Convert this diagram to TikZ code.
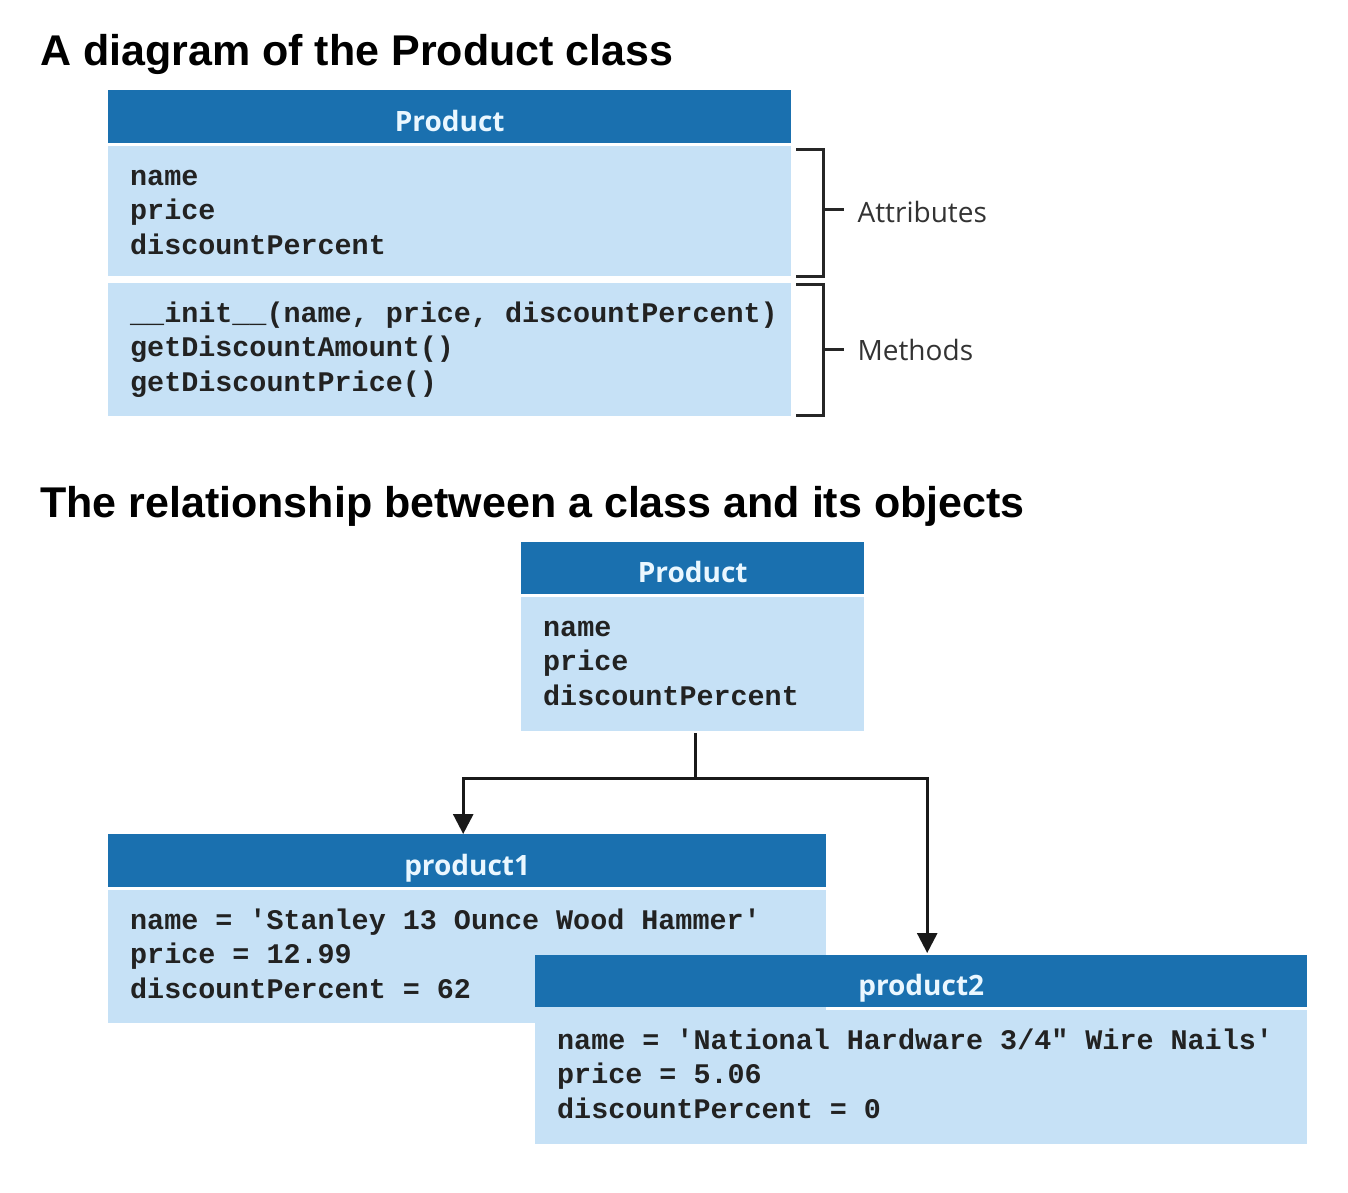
\documentclass[tikz,border=0pt]{standalone}
\usepackage{fontspec}
\setmainfont{Liberation Sans}
\newfontfamily\hdrfont{Open Sans}
\newfontfamily\codefont{Liberation Mono}[Ligatures=TeXOff]
\usetikzlibrary{arrows.meta,calc}
\definecolor{hdrblue}{HTML}{1A70AF}
\definecolor{bodyblue}{HTML}{C6E1F6}
\definecolor{hdrtext}{HTML}{EAF7FF}
\definecolor{codetext}{HTML}{222222}
\begin{document}
\begin{tikzpicture}[x=1pt,y=-1pt,
 hdr/.style={fill=hdrblue, draw=none, anchor=north west, inner sep=0, text=hdrtext, font=\hdrfont\bfseries\fontsize{28}{30}\selectfont, text depth=2pt, text height=31pt},
 bodybox/.style={fill=bodyblue, draw=none, anchor=north west, inner sep=0},
 code/.style={anchor=base west, inner sep=0, text=codetext, font=\codefont\bfseries\fontsize{28.4}{34}\selectfont},
 title/.style={anchor=base west, inner sep=0, font=\bfseries\fontsize{43}{48}\selectfont},
 note/.style={anchor=west, inner sep=0, text=black!80, font=\hdrfont\fontsize{28}{30}\selectfont},
 bracket/.style={line width=3pt, black!85},
 conn/.style={line width=2.8pt, black!90, -{Triangle[width=20pt,length=20pt]}}
]
\useasboundingbox[fill=white] (0,0) rectangle (1348,1192);

% Title 1
\node[title] (t1) at (40,65) {A diagram of the Product class};

% Class box 1
\node[hdr, minimum width=683pt, minimum height=53pt] (h1) at (108,90) {Product};
\node[bodybox, minimum width=683pt, minimum height=130pt] (attr1) at (108,146) {};
\node[bodybox, minimum width=683pt, minimum height=133pt] (meth1) at (108,283) {};
\node[code] (a1) at (130,185) {name};
\node[code] (a2) at (130,219.5) {price};
\node[code] (a3) at (130,254) {discountPercent};
\node[code] (m1) at (130,322) {\_\_init\_\_(name, price, discountPercent)};
\node[code] (m2) at (130,356.5) {getDiscountAmount()};
\node[code] (m3) at (130,391) {getDiscountPrice()};

% Brackets
\draw[bracket] ($(attr1.north east)+(5,3)$) -| ($(attr1.south east)+(32,0)$) -- ($(attr1.south east)+(5,0)$);
\draw[bracket] ($(attr1.east)+(32,-2)$) -- ($(attr1.east)+(53,-2)$);
\node[note] (attrl) at ($(attr1.east)+(66,1)$) {Attributes};
\draw[bracket] ($(meth1.north east)+(5,1)$) -| ($(meth1.south east)+(32,-1)$) -- ($(meth1.south east)+(5,-1)$);
\draw[bracket] ($(meth1.east)+(32,0)$) -- ($(meth1.east)+(53,0)$);
\node[note] (methl) at ($(meth1.east)+(66,0)$) {Methods};

% Title 2
\node[title] (t2) at (40,517) {The relationship between a class and its objects};

% Class box 2
\node[hdr, minimum width=343pt, minimum height=52pt] (h2) at (521,542) {Product};
\node[bodybox, minimum width=343pt, minimum height=134pt] (b2) at (521,597) {};
\node[code] (c1) at (543,636) {name};
\node[code] (c2) at (543,670.5) {price};
\node[code] (c3) at (543,705) {discountPercent};

% product1
\node[hdr, minimum width=718pt, minimum height=53pt] (p1h) at (108,834) {product1};
\node[bodybox, minimum width=718pt, minimum height=133pt] (p1b) at (108,890) {};
\node[code] (d1) at (130,929) {name = 'Stanley 13 Ounce Wood Hammer'};
\node[code] (d2) at (130,963.5) {price = 12.99};
\node[code] (d3) at (130,998) {discountPercent = 62};

% product2
\node[hdr, minimum width=772pt, minimum height=52pt] (p2h) at (535,955) {product2};
\node[bodybox, minimum width=772pt, minimum height=134pt] (p2b) at (535,1010) {};
\node[code] (e1) at (557,1049) {name = 'National Hardware 3/4" Wire Nails'};
\node[code] (e2) at (557,1083.5) {price = 5.06};
\node[code] (e3) at (557,1118) {discountPercent = 0};

% Connectors
\coordinate (j) at ($(b2.south)+(2.5,47)$);
\draw[line width=2.8pt, black!90] ($(b2.south)+(2.5,2)$) -- (j);
\draw[conn] (j) -| ($(p1h.north)+(-4,0)$);
\draw[conn] (j) -| ($(p2h.north)+(6,-2)$);
\end{tikzpicture}
\end{document}
